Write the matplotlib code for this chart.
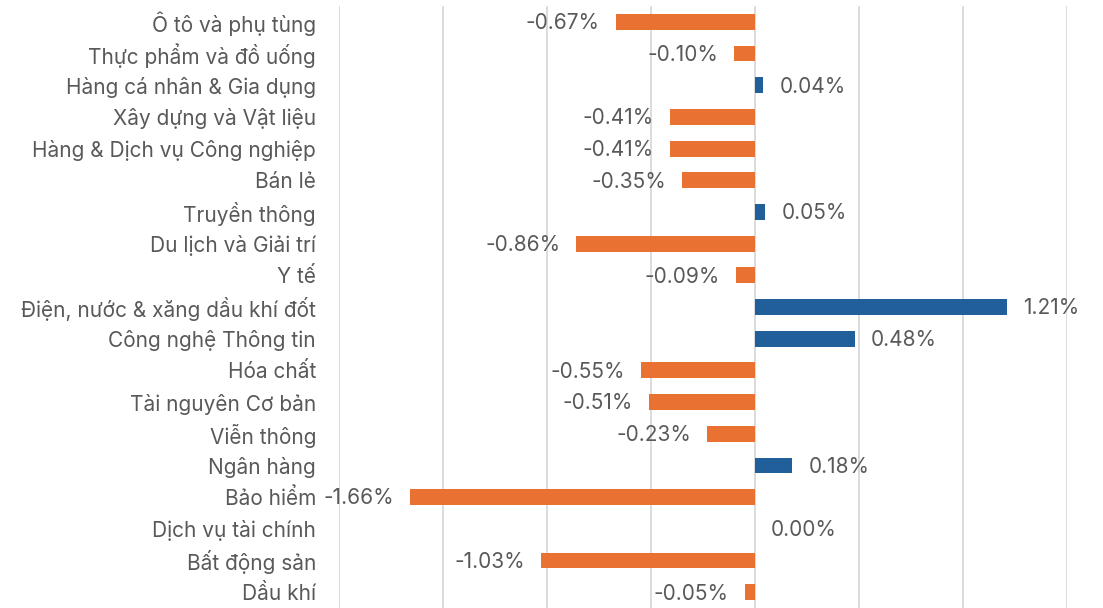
import matplotlib
matplotlib.use("Agg")
import matplotlib.pyplot as plt

# nganh va muc thay doi (%), tu tren xuong duoi
sectors = ["Ô tô và phụ tùng", "Thực phẩm và đồ uống", "Hàng cá nhân & Gia dụng",
           "Xây dựng và Vật liệu", "Hàng & Dịch vụ Công nghiệp", "Bán lẻ",
           "Truyền thông", "Du lịch và Giải trí", "Y tế",
           "Điện, nước & xăng dầu khí đốt", "Công nghệ Thông tin", "Hóa chất",
           "Tài nguyên Cơ bản", "Viễn thông", "Ngân hàng", "Bảo hiểm",
           "Dịch vụ tài chính", "Bất động sản", "Dầu khí"]
changes = [-0.67, -0.10, 0.04, -0.41, -0.41, -0.35, 0.05, -0.86, -0.09,
           1.21, 0.48, -0.55, -0.51, -0.23, 0.18, -1.66, 0.00, -1.03, -0.05]

ORANGE = "#E97132"
BLUE = "#215F9A"
TEXT = "#595959"
GRID = "#D9D9D9"

plt.rcParams["font.family"] = ["Inter", "DejaVu Sans"]

fig = plt.figure(figsize=(11.03, 6.08), dpi=100)
ax = fig.add_axes([339 / 1103, 0, (1067 - 339) / 1103, 602 / 608])

ypos = list(range(len(sectors)))
colors = [BLUE if v >= 0 else ORANGE for v in changes]
ax.barh(ypos, changes, height=0.5, color=colors, zorder=3)

for y, v in zip(ypos, changes):
    if v >= 0:
        ax.annotate(f"{v:.2f}%", (v, y), xytext=(11.5, -1), textcoords="offset points",
                    ha="left", va="center", fontsize=15, color=TEXT)
    else:
        ax.annotate(f"{v:.2f}%", (v, y), xytext=(-11.5, -1), textcoords="offset points",
                    ha="right", va="center", fontsize=15, color=TEXT)

ax.set_xlim(-2.0, 1.5)
ax.set_ylim(len(sectors) - 0.5, -0.5)
ax.set_xticks([-2.0, -1.5, -1.0, -0.5, 0.0, 0.5, 1.0, 1.5])
ax.xaxis.grid(True, color=GRID, linewidth=1.3, zorder=0)
ax.tick_params(axis="x", length=0, labelbottom=False)
ax.set_yticks(ypos)
ax.set_yticklabels(sectors, fontsize=15, color=TEXT)
ax.tick_params(axis="y", length=0, pad=16.5)
for s in ax.spines.values():
    s.set_visible(False)

fig.savefig("out.png", dpi=100)
